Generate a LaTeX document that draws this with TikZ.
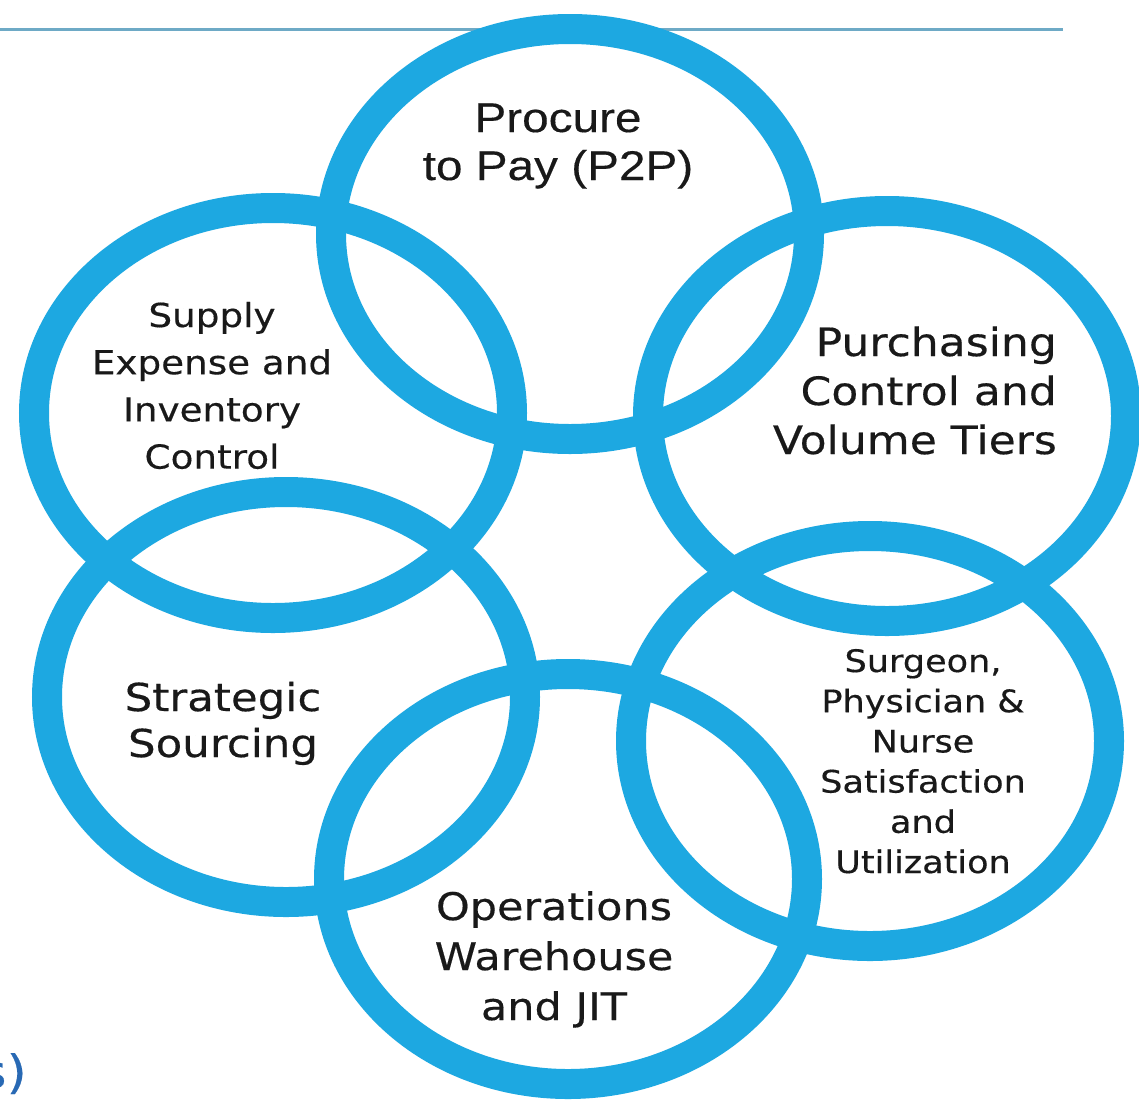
\documentclass[tikz,border=0pt]{standalone}
\usepackage{fontspec}
\usetikzlibrary{shapes.geometric}
\newfontfamily\ringfont[FakeStretch=1.13,FakeBold=0.4]{DejaVu Sans}
\newfontfamily\ptpfont[FakeStretch=1.15,FakeBold=0.3]{Liberation Sans}
\definecolor{ringc}{RGB}{29,168,225}
\definecolor{linec}{RGB}{110,170,198}
\definecolor{fragc}{RGB}{40,105,180}
\definecolor{txtc}{RGB}{25,25,25}
\tikzset{
  ringe/.style={ellipse, draw=ringc, line width=30pt, minimum width=478pt, minimum height=410pt, inner sep=0pt},
  lbl/.style={inner sep=0pt, anchor=base, text=txtc},
  topline/.style={draw=linec, line width=3pt}
}
\begin{document}
\begin{tikzpicture}[x=1pt,y=-1pt]
\clip (0,0) rectangle (1139,1100);
\fill[white] (0,0) rectangle (1139,1100);
\coordinate (rl) at (0,29);
\coordinate (rr) at (1063,29);
\draw[topline] (rl) -- (rr);
\node[ringe] (c1) at (570,234) {};
\node[ringe] (c2) at (273,413) {};
\node[ringe] (c3) at (887,416) {};
\node[ringe] (c4) at (286,697) {};
\node[ringe] (c5) at (870,741) {};
\node[ringe] (c6) at (568,879) {};
\node[lbl, font={\ptpfont\fontsize{41.5}{48}\selectfont}] (t1) at (558,132)
  {\begin{tabular}[t]{@{}c@{}}Procure\\to Pay (P2P)\end{tabular}};
\node[lbl, font={\ringfont\fontsize{33}{47.2}\selectfont}] (t2) at (212,327)
  {\begin{tabular}[t]{@{}c@{}}Supply\\Expense and\\Inventory\\Control\end{tabular}};
\node[lbl, anchor=base east, font={\ringfont\fontsize{39}{49}\selectfont}] (t3) at (1057,356)
  {\begin{tabular}[t]{@{}r@{}}Purchasing\\Control and\\Volume Tiers\end{tabular}};
\node[lbl, font={\ringfont\fontsize{38.5}{46}\selectfont}] (t4) at (223,711)
  {\begin{tabular}[t]{@{}c@{}}Strategic\\Sourcing\end{tabular}};
\node[lbl, font={\ringfont\fontsize{31}{40.2}\selectfont}] (t5) at (923,672)
  {\begin{tabular}[t]{@{}c@{}}Surgeon,\\Physician \&\\Nurse\\Satisfaction\\and\\Utilization\end{tabular}};
\node[lbl, font={\ringfont\fontsize{38}{50}\selectfont}] (t6) at (554,920)
  {\begin{tabular}[t]{@{}c@{}}Operations\\Warehouse\\and JIT\end{tabular}};
\node[inner sep=0pt, anchor=base east, text=fragc, font={\ringfont\fontsize{46}{50}\selectfont}] (frag) at (27,1088) {s)};
\end{tikzpicture}
\end{document}
